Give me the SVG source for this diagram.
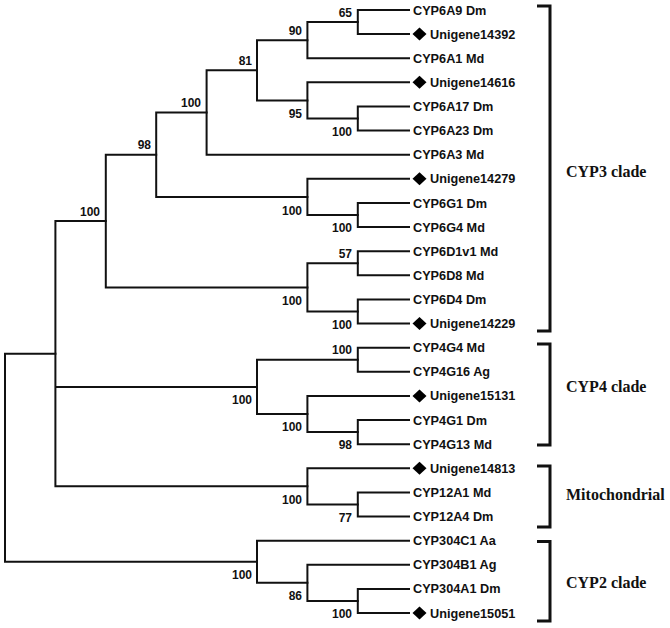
<svg xmlns="http://www.w3.org/2000/svg" width="670" height="628" viewBox="0 0 670 628">
<style>
.br{fill:none;stroke:#111;stroke-width:2;stroke-linejoin:miter;stroke-linecap:square}
.bk{fill:none;stroke:#111;stroke-width:3;stroke-linejoin:miter}
.lf{font-family:"Liberation Sans",Arial,sans-serif;font-weight:bold;font-size:12.7px;fill:#111}
.bs{font-family:"Liberation Sans",Arial,sans-serif;font-weight:bold;font-size:12px;fill:#111;text-anchor:end}
.cl{font-family:"Liberation Serif","Times New Roman",serif;font-weight:bold;font-size:16px;fill:#111}
.dm{fill:#000}
</style>
<defs>
<polygon id="dia" points="-7,0 0,-6.5 7,0 0,6.5" class="dm"/>
</defs>
<rect width="670" height="628" fill="#fff"/>
<g id="connectors">
<path class="br" d="M409 10 H357.8 V34.12 H409"/>
<path class="br" d="M357.8 22.06 H307.4 V58.24 H409"/>
<path class="br" d="M409 106.48 H357.8 V130.6 H409"/>
<path class="br" d="M409 82.36 H307.4 V118.54 H357.8"/>
<path class="br" d="M307.4 40.15 H257 V100.45 H307.4"/>
<path class="br" d="M257 70.3 H206.6 V154.72 H409"/>
<path class="br" d="M409 202.96 H357.8 V227.08 H409"/>
<path class="br" d="M409 178.84 H307.4 V215.02 H357.8"/>
<path class="br" d="M206.6 112.51 H156.2 V196.93 H307.4"/>
<path class="br" d="M409 251.2 H357.8 V275.32 H409"/>
<path class="br" d="M409 299.44 H357.8 V323.56 H409"/>
<path class="br" d="M357.8 263.26 H307.4 V311.5 H357.8"/>
<path class="br" d="M156.2 154.72 H105.8 V287.38 H307.4"/>
<path class="br" d="M409 347.68 H357.8 V371.8 H409"/>
<path class="br" d="M409 420.04 H357.8 V444.16 H409"/>
<path class="br" d="M409 395.92 H307.4 V432.1 H357.8"/>
<path class="br" d="M357.8 359.74 H257 V414.01 H307.4"/>
<path class="br" d="M409 492.4 H357.8 V516.52 H409"/>
<path class="br" d="M409 468.28 H307.4 V504.46 H357.8"/>
<path class="br" d="M105.8 221.05 H55.4 V486.37 H307.4 M55.4 386.88 H257"/>
<path class="br" d="M409 588.88 H357.8 V613 H409"/>
<path class="br" d="M409 564.76 H307.4 V600.94 H357.8"/>
<path class="br" d="M409 540.64 H257 V582.85 H307.4"/>
<path class="br" d="M55.4 353.71 H5 V561.75 H257"/>
</g>
<g id="bootstrap">
<g id="nA"><text class="bs" x="352" y="16.5">65</text></g>
<g id="nB"><text class="bs" x="302" y="34.5">90</text></g>
<g id="nC"><text class="bs" x="352" y="135.5">100</text></g>
<g id="nD"><text class="bs" x="302" y="117.5">95</text></g>
<g id="nE"><text class="bs" x="252" y="65">81</text></g>
<g id="nF"><text class="bs" x="201" y="107">100</text></g>
<g id="nG"><text class="bs" x="352" y="232">100</text></g>
<g id="nH"><text class="bs" x="302" y="214.5">100</text></g>
<g id="nI"><text class="bs" x="151" y="149">98</text></g>
<g id="nJ"><text class="bs" x="352" y="257.5">57</text></g>
<g id="nK"><text class="bs" x="352" y="328.5">100</text></g>
<g id="nL"><text class="bs" x="302" y="304.5">100</text></g>
<g id="nM"><text class="bs" x="100" y="215.5">100</text></g>
<g id="nN"><text class="bs" x="352" y="354">100</text></g>
<g id="nO"><text class="bs" x="352" y="448.5">98</text></g>
<g id="nP"><text class="bs" x="302" y="431">100</text></g>
<g id="nQ"><text class="bs" x="252" y="404">100</text></g>
<g id="nR"><text class="bs" x="352" y="521.5">77</text></g>
<g id="nS"><text class="bs" x="302" y="503.5">100</text></g>
<g id="nU"><text class="bs" x="352" y="617.5">100</text></g>
<g id="nV"><text class="bs" x="302" y="600">86</text></g>
<g id="nW"><text class="bs" x="252" y="579">100</text></g>
</g>
<g id="leaves">
<g id="L0"><text class="lf" x="413" y="14.5">CYP6A9 Dm</text></g>
<g id="L1"><use href="#dia" x="419.5" y="34.12"/><text class="lf" x="430" y="38.6">Unigene14392</text></g>
<g id="L2"><text class="lf" x="413" y="62.7">CYP6A1 Md</text></g>
<g id="L3"><use href="#dia" x="419.5" y="82.36"/><text class="lf" x="430" y="86.9">Unigene14616</text></g>
<g id="L4"><text class="lf" x="413" y="111">CYP6A17 Dm</text></g>
<g id="L5"><text class="lf" x="413" y="135.1">CYP6A23 Dm</text></g>
<g id="L6"><text class="lf" x="413" y="159.2">CYP6A3 Md</text></g>
<g id="L7"><use href="#dia" x="419.5" y="178.84"/><text class="lf" x="430" y="183.3">Unigene14279</text></g>
<g id="L8"><text class="lf" x="413" y="207.5">CYP6G1 Dm</text></g>
<g id="L9"><text class="lf" x="413" y="231.6">CYP6G4 Md</text></g>
<g id="L10"><text class="lf" x="413" y="255.7">CYP6D1v1 Md</text></g>
<g id="L11"><text class="lf" x="413" y="279.8">CYP6D8 Md</text></g>
<g id="L12"><text class="lf" x="413" y="303.9">CYP6D4 Dm</text></g>
<g id="L13"><use href="#dia" x="419.5" y="323.56"/><text class="lf" x="430" y="328.1">Unigene14229</text></g>
<g id="L14"><text class="lf" x="413" y="352.2">CYP4G4 Md</text></g>
<g id="L15"><text class="lf" x="413" y="376.3">CYP4G16 Ag</text></g>
<g id="L16"><use href="#dia" x="419.5" y="395.92"/><text class="lf" x="430" y="400.4">Unigene15131</text></g>
<g id="L17"><text class="lf" x="413" y="424.5">CYP4G1 Dm</text></g>
<g id="L18"><text class="lf" x="413" y="448.7">CYP4G13 Md</text></g>
<g id="L19"><use href="#dia" x="419.5" y="468.28"/><text class="lf" x="430" y="472.8">Unigene14813</text></g>
<g id="L20"><text class="lf" x="413" y="496.9">CYP12A1 Md</text></g>
<g id="L21"><text class="lf" x="413" y="521">CYP12A4 Dm</text></g>
<g id="L22"><text class="lf" x="413" y="545.1">CYP304C1 Aa</text></g>
<g id="L23"><text class="lf" x="413" y="569.3">CYP304B1 Ag</text></g>
<g id="L24"><text class="lf" x="413" y="593.4">CYP304A1 Dm</text></g>
<g id="L25"><use href="#dia" x="419.5" y="613"/><text class="lf" x="430" y="617.5">Unigene15051</text></g>
</g>
<g id="clades">
<g id="cyp3"><path class="bk" d="M537 6 H550 V331 H537"/><text class="cl" x="566" y="177">CYP3 clade</text></g>
<g id="cyp4"><path class="bk" d="M537 344 H550 V445 H537"/><text class="cl" x="566" y="392">CYP4 clade</text></g>
<g id="mito"><path class="bk" d="M537 466 H550 V527 H537"/><text class="cl" x="566" y="500">Mitochondrial</text></g>
<g id="cyp2"><path class="bk" d="M537 541.5 H550 V621 H537"/><text class="cl" x="566" y="588">CYP2 clade</text></g>
</g>
</svg>
